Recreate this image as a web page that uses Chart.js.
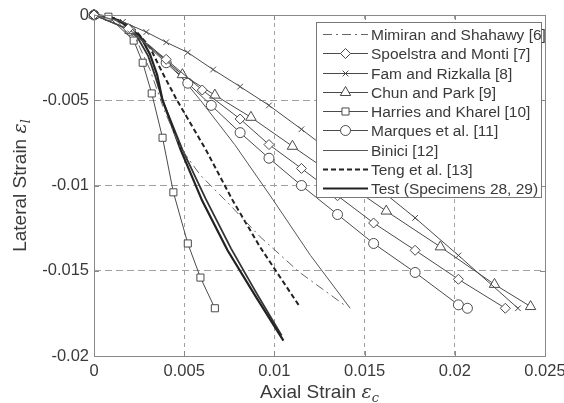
<!DOCTYPE html>
<html>
<head>
<meta charset="utf-8">
<title>Lateral vs Axial Strain</title>
<script src="https://cdn.jsdelivr.net/npm/chart.js@4.4.0/dist/chart.umd.min.js"></script>
<style>
  html, body { margin: 0; padding: 0; background: #fff; }
  #wrap { width: 564px; height: 403px; position: relative; }
</style>
</head>
<body>
<div id="wrap"><canvas id="chart"></canvas></div>
<script>
// Tick labels
const xTickLabels = ['0', '0.005', '0.01', '0.015', '0.02', '0.025'];
const yTickLabels = ['-0.02', '-0.015', '-0.01', '-0.005', '0'];

// Series data: axial strain (x) and lateral strain (y)
const mimiranX = [0, 0.0012, 0.0023, 0.0031, 0.0039, 0.0048, 0.0059, 0.0075, 0.0092, 0.0114, 0.0140];
const mimiranY = [0, -0.0003, -0.00135, -0.0032, -0.0056, -0.0078, -0.0094, -0.0111, -0.0130, -0.0151, -0.0171];

const spoelstraX = [0, 0.0019, 0.0040, 0.0060, 0.0081, 0.0097, 0.0115, 0.0135, 0.0155, 0.0178, 0.0202, 0.0228];
const spoelstraY = [0, -0.0008, -0.0026, -0.0044, -0.0061, -0.0076, -0.0090, -0.0106, -0.0122, -0.0138, -0.0155, -0.0172];

const famX = [0, 0.0016, 0.0029, 0.0040, 0.0052, 0.0066, 0.0081, 0.0097, 0.0115, 0.0136, 0.0157, 0.0178, 0.0202, 0.0235];
const famY = [0, -0.0004, -0.0010, -0.0016, -0.0022, -0.0032, -0.0042, -0.0053, -0.0067, -0.0084, -0.0101, -0.0119, -0.0141, -0.0172];

const chunX = [0, 0.0020, 0.0049, 0.0067, 0.0087, 0.0110, 0.0136, 0.0162, 0.0192, 0.0222, 0.0242];
const chunY = [0, -0.0009, -0.0035, -0.0047, -0.0060, -0.0077, -0.0096, -0.0115, -0.0136, -0.0158, -0.0171];

const harriesX = [0, 0.0008, 0.0022, 0.0027, 0.0032, 0.0038, 0.0044, 0.0052, 0.0059, 0.0067];
const harriesY = [0, -0.0001, -0.0015, -0.0028, -0.0046, -0.0072, -0.0104, -0.0134, -0.0154, -0.0172];

const marquesX = [0, 0.0020, 0.0040, 0.0052, 0.0065, 0.0081, 0.0097, 0.0115, 0.0135, 0.0155, 0.0178, 0.0202, 0.0207];
const marquesY = [0, -0.0009, -0.0028, -0.0040, -0.0053, -0.0069, -0.0084, -0.0100, -0.0117, -0.0134, -0.0151, -0.0170, -0.0172];

const biniciX = [0, 0.0014, 0.0031, 0.0045, 0.0059, 0.0078, 0.0099, 0.0120, 0.0142];
const biniciY = [0, -0.0006, -0.0018, -0.0032, -0.0050, -0.0076, -0.0108, -0.0141, -0.0172];

const tengX = [0, 0.0012, 0.0023, 0.0031, 0.0038, 0.0046, 0.0062, 0.0077, 0.0092, 0.0114];
const tengY = [0, -0.0002, -0.0009, -0.0019, -0.0034, -0.0050, -0.0079, -0.0109, -0.0136, -0.0171];

const test28X = [0, 0.0009, 0.0017, 0.0026, 0.0031, 0.0035, 0.0038, 0.0048, 0.0060, 0.0074, 0.0089, 0.0105];
const test28Y = [0, -0.0001, -0.0005, -0.0013, -0.0023, -0.0035, -0.0050, -0.0079, -0.0109, -0.0138, -0.0164, -0.0191];
const test29X = [0, 0.0009, 0.0016, 0.0024, 0.0030, 0.0034, 0.0038, 0.0049, 0.0062, 0.0076, 0.0090, 0.0104];
const test29Y = [0, -0.0001, -0.0005, -0.0013, -0.0024, -0.0036, -0.0050, -0.0079, -0.0108, -0.0137, -0.0163, -0.0188];

const seriesLabels = [
    'Mimiran and Shahawy [6]',
    'Spoelstra and Monti [7]',
    'Fam and Rizkalla [8]',
    'Chun and Park [9]',
    'Harries and Kharel [10]',
    'Marques et al. [11]',
    'Binici [12]',
    'Teng et al. [13]',
    'Test (Specimens 28, 29)'
];

const FONT = '"Liberation Sans", Arial, Helvetica, sans-serif';
const INK = '#3a3a3a';

// Build {x, y} points from two arrays
function toPoints(xs, ys) {
    return xs.map((x, i) => ({ x: x, y: ys[i] }));
}

// Common dataset style
function series(label, xs, ys, style) {
    return Object.assign({
        label: label,
        data: toPoints(xs, ys),
        borderColor: '#4a4a4a',
        borderWidth: 1,
        pointRadius: 0,
        pointBackgroundColor: '#fff',
        pointBorderColor: '#4a4a4a',
        pointBorderWidth: 1,
        fill: false,
        tension: 0,
        clip: false
    }, style || {});
}

const datasets = [
    series(seriesLabels[0], mimiranX, mimiranY, { borderColor: '#666', borderDash: [9, 4, 2, 4] }),
    series(seriesLabels[1], spoelstraX, spoelstraY, { pointStyle: 'rectRot', pointRadius: 5 }),
    series(seriesLabels[2], famX, famY, { pointStyle: 'crossRot', pointRadius: 4 }),
    series(seriesLabels[3], chunX, chunY, { pointStyle: 'triangle', pointRadius: 6 }),
    series(seriesLabels[4], harriesX, harriesY, { pointStyle: 'rect', pointRadius: 5 }),
    series(seriesLabels[5], marquesX, marquesY, { pointStyle: 'circle', pointRadius: 5 }),
    series(seriesLabels[6], biniciX, biniciY, { borderColor: '#555' }),
    series(seriesLabels[7], tengX, tengY, { borderColor: '#222', borderWidth: 2, borderDash: [5, 3] }),
    series(seriesLabels[8], test28X, test28Y, { borderColor: '#222', borderWidth: 2.2 }),
    series('', test29X, test29Y, { borderColor: '#333', borderWidth: 1.8, hideInLegend: true })
];

// Frame, inward ticks, axis titles and legend, drawn MATLAB style
const matlabFrame = {
    id: 'matlabFrame',
    afterDatasetsDraw(chart) {
        const ctx = chart.ctx;
        const a = chart.chartArea;
        const xs = chart.scales.x;
        const ys = chart.scales.y;
        ctx.save();
        ctx.strokeStyle = '#888';
        ctx.lineWidth = 1;
        ctx.setLineDash([]);
        ctx.strokeRect(Math.round(a.left) + 0.5, Math.round(a.top) + 0.5,
            Math.round(a.right - a.left), Math.round(a.bottom - a.top));

        // Inward tick marks on all four sides
        ctx.beginPath();
        xs.ticks.forEach(t => {
            const px = Math.round(xs.getPixelForValue(t.value)) + 0.5;
            ctx.moveTo(px, a.bottom); ctx.lineTo(px, a.bottom - 5);
            ctx.moveTo(px, a.top); ctx.lineTo(px, a.top + 5);
        });
        ys.ticks.forEach(t => {
            const py = Math.round(ys.getPixelForValue(t.value)) + 0.5;
            ctx.moveTo(a.left, py); ctx.lineTo(a.left + 5, py);
            ctx.moveTo(a.right, py); ctx.lineTo(a.right - 5, py);
        });
        ctx.stroke();
        ctx.restore();
    },
    afterDraw(chart) {
        const ctx = chart.ctx;
        const a = chart.chartArea;
        ctx.save();
        ctx.fillStyle = INK;
        ctx.textBaseline = 'alphabetic';

        // X axis title: Axial Strain ε_c
        drawTitle(ctx, 'Axial Strain ', 'c', (a.left + a.right) / 2, 398);
        // Y axis title: Lateral Strain ε_l
        ctx.save();
        ctx.translate(26, (a.top + a.bottom) / 2);
        ctx.rotate(-Math.PI / 2);
        drawTitle(ctx, 'Lateral Strain ', 'l', 0, 0);
        ctx.restore();

        // Legend box
        const box = { left: 316, top: 22, right: 541, bottom: 197 };
        ctx.fillStyle = '#fff';
        ctx.fillRect(box.left, box.top, box.right - box.left, box.bottom - box.top);
        ctx.strokeStyle = '#777';
        ctx.lineWidth = 1;
        ctx.setLineDash([]);
        ctx.strokeRect(box.left + 0.5, box.top + 0.5, box.right - box.left, box.bottom - box.top);

        const items = chart.data.datasets.filter(d => !d.hideInLegend);
        ctx.font = '15.5px ' + FONT;
        ctx.textBaseline = 'middle';
        items.forEach((d, i) => {
            const y = Math.round(34 + i * 19.25) + 0.5;
            ctx.strokeStyle = d.borderColor;
            ctx.lineWidth = d.borderWidth;
            ctx.setLineDash(d.borderDash || []);
            ctx.beginPath();
            ctx.moveTo(323, y);
            ctx.lineTo(368, y);
            ctx.stroke();
            ctx.setLineDash([]);
            if (d.pointRadius > 0 && Chart.helpers && Chart.helpers.drawPoint) {
                ctx.fillStyle = '#fff';
                ctx.strokeStyle = d.pointBorderColor;
                ctx.lineWidth = 1;
                Chart.helpers.drawPoint(ctx, {
                    pointStyle: d.pointStyle, radius: d.pointRadius, rotation: 0, borderWidth: 1
                }, 345.5, y);
            }
            ctx.fillStyle = INK;
            ctx.fillText(d.label, 371, y + 1);
        });
        ctx.restore();
    }
};

// Title text with an italic epsilon and subscript, centred on (cx, baseline)
function drawTitle(ctx, text, sub, cx, baseline) {
    const main = '19px ' + FONT;
    const ital = 'italic 19px "DejaVu Serif", "Liberation Serif", serif';
    const small = 'italic 13px "DejaVu Serif", "Liberation Serif", serif';
    ctx.font = main;
    const w1 = ctx.measureText(text).width;
    ctx.font = ital;
    const w2 = ctx.measureText('ε').width;
    ctx.font = small;
    const w3 = ctx.measureText(sub).width;
    let x = cx - (w1 + w2 + w3) / 2;
    ctx.textAlign = 'left';
    ctx.font = main; ctx.fillText(text, x, baseline); x += w1;
    ctx.font = ital; ctx.fillText('ε', x, baseline); x += w2;
    ctx.font = small; ctx.fillText(sub, x, baseline + 4);
}

function gridColor(ctx, last) {
    return (ctx.index === 0 || ctx.index === last) ? 'rgba(0,0,0,0)' : '#a0a0a0';
}

new Chart(document.getElementById('chart'), {
    type: 'line',
    data: { datasets: datasets },
    options: {
        responsive: true,
        maintainAspectRatio: false,
        animation: false,
        layout: { padding: { left: 0, right: 19, top: 15, bottom: 0 } },
        plugins: {
            legend: { display: false },
            tooltip: { enabled: false }
        },
        scales: {
            x: {
                type: 'linear',
                min: 0,
                max: 0.025,
                border: { display: false, dash: [4, 4] },
                grid: {
                    color: c => gridColor(c, xTickLabels.length - 1),
                    drawTicks: false
                },
                ticks: {
                    stepSize: 0.005,
                    padding: 6,
                    color: INK,
                    font: { family: FONT, size: 16.5 },
                    maxRotation: 0,
                    callback: (v, i) => xTickLabels[i]
                },
                afterFit: s => { s.height = 47; s.paddingLeft = 0; s.paddingRight = 0; }
            },
            y: {
                type: 'linear',
                min: -0.02,
                max: 0,
                border: { display: false, dash: [7, 4] },
                grid: {
                    color: c => gridColor(c, yTickLabels.length - 1),
                    drawTicks: false
                },
                ticks: {
                    stepSize: 0.005,
                    padding: 5,
                    color: INK,
                    font: { family: FONT, size: 16.5 },
                    callback: (v, i) => yTickLabels[i]
                },
                afterFit: s => { s.width = 94; s.paddingTop = 0; s.paddingBottom = 0; }
            }
        }
    },
    plugins: [matlabFrame]
});
</script>
</body>
</html>
